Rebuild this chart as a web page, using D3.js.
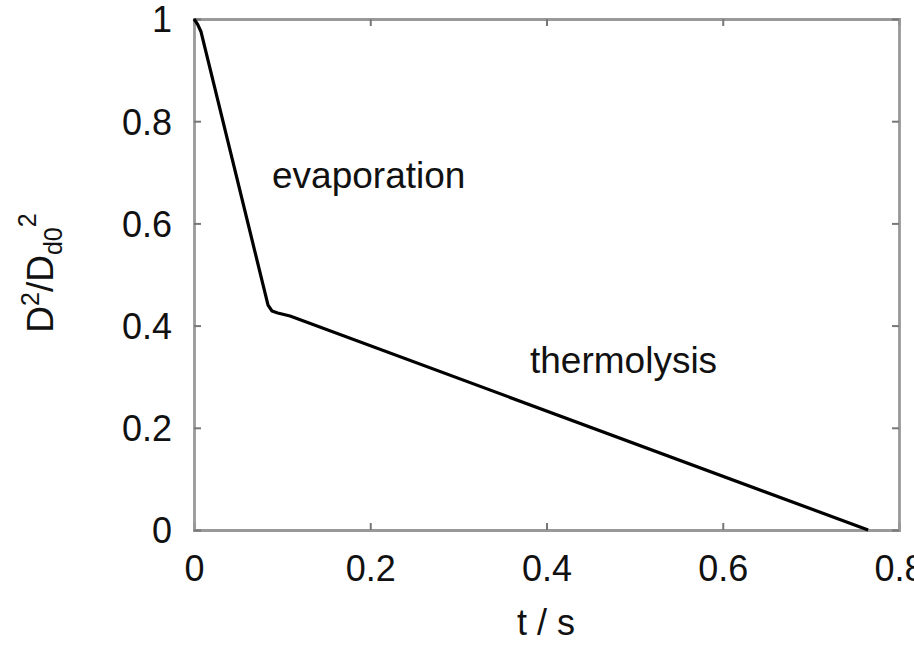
<html>
<head>
<script src="https://d3js.org/d3.v7.min.js"></script>
<style>
body { margin: 0; background: #fff; font-family: 'Liberation Sans', Arial, sans-serif; }
</style>
</head>
<body>
<svg id="chart" width="914" height="649"></svg>
<script>
// droplet diameter squared (normalised) vs time
var timeS = [0, 0.004, 0.008, 0.084, 0.0885, 0.095, 0.109, 0.765];
var diamSq = [1.0, 0.99, 0.975, 0.44, 0.4286, 0.4247, 0.4188, 0];
var xTicks = [0, 0.2, 0.4, 0.6, 0.8];
var yTicks = [0, 0.2, 0.4, 0.6, 0.8, 1];

var svg = d3.select("#chart");
var plotL = 194, plotR = 899, plotT = 19, plotB = 530;
var axisColor = "#999";
var fontSize = "36px";

var x = d3.scaleLinear().domain([0, 0.8]).range([plotL, plotR]);
var y = d3.scaleLinear().domain([0, 1]).range([plotB, plotT]);

var fmt = function (d) { return d === 0 || d === 1 ? String(d) : d.toFixed(1); };

// bottom axis (ticks inward)
var gx = svg.append("g").attr("transform", "translate(0," + plotB + ")")
    .call(d3.axisBottom(x).tickValues(xTicks).tickSize(-7).tickPadding(25).tickFormat(fmt));
// top axis mirror
var gxt = svg.append("g").attr("transform", "translate(0," + plotT + ")")
    .call(d3.axisTop(x).tickValues(xTicks).tickSize(-7).tickFormat(""));
// left axis
var gy = svg.append("g").attr("transform", "translate(" + plotL + ",0)")
    .call(d3.axisLeft(y).tickValues(yTicks).tickSize(-7).tickPadding(22).tickFormat(fmt));
// right axis mirror
var gyr = svg.append("g").attr("transform", "translate(" + plotR + ",0)")
    .call(d3.axisRight(y).tickValues(yTicks).tickSize(-7).tickFormat(""));

[gx, gxt, gy, gyr].forEach(function (g) {
    g.attr("font-size", null).attr("font-family", null);
    g.select(".domain").attr("stroke", axisColor).attr("stroke-width", 2.8);
    g.selectAll(".tick line").attr("stroke", "#777").attr("stroke-width", 2);
    g.selectAll(".tick text").style("font-size", fontSize).attr("fill", "#111");
});
gx.selectAll(".tick text").attr("dy", "0.71em");
gy.selectAll(".tick text").attr("dy", "0.36em");

// curve
var pts = timeS.map(function (t, i) { return [t, diamSq[i]]; });
var line = d3.line().x(function (d) { return x(d[0]); }).y(function (d) { return y(d[1]); });
svg.append("path")
    .datum(pts)
    .attr("d", line)
    .attr("fill", "none")
    .attr("stroke", "#000")
    .attr("stroke-width", 3.2)
    .attr("stroke-linejoin", "round");

// annotations
svg.append("text").attr("x", 272).attr("y", 188)
    .style("font-size", "37px").attr("fill", "#111").text("evaporation");
svg.append("text").attr("x", 530).attr("y", 373)
    .style("font-size", "37px").attr("fill", "#111").text("thermolysis");

// axis labels
svg.append("text").attr("x", 546).attr("y", 635)
    .attr("text-anchor", "middle").style("font-size", fontSize).attr("fill", "#111").text("t / s");

var yl = svg.append("text")
    .attr("transform", "translate(53,273) rotate(-90)")
    .attr("text-anchor", "middle").style("font-size", "37px").attr("fill", "#111");
yl.append("tspan").text("D");
yl.append("tspan").attr("dy", -14).style("font-size", "25px").text("2");
yl.append("tspan").attr("dy", 14).text("/D");
yl.append("tspan").attr("dy", 9).style("font-size", "25px").text("d0");
yl.append("tspan").attr("dy", -26).style("font-size", "25px").text("2");
</script>
</body>
</html>
